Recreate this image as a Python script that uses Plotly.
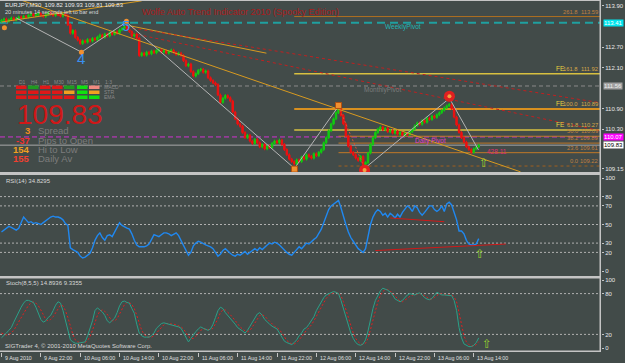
import plotly.graph_objects as go

# ---------------- layout constants (pixels) ----------------
W, H = 625, 363
M_R, M_B = 24, 11
PW, PH = W - M_R, H - M_B        # plot area 601 x 352
BAR_PX = 2.46
FONT = "Liberation Sans, Arial, sans-serif"
BG = "#424b49"

def PX(x):
    return x / PW

def PY(y):
    return 1 - y / PH

# ---------------- data ----------------
closes = [113.48, 113.52, 113.45, 113.50, 113.55, 113.49, 113.53, 113.58, 113.55,
          113.60, 113.57, 113.63, 113.66, 113.61, 113.64, 113.68, 113.62, 113.59, 113.65, 113.70, 113.66, 113.62, 113.67, 113.64, 113.60, 113.66, 113.62,
          113.35, 113.10, 113.18, 112.98, 112.90, 112.80,
          112.88, 112.84, 112.92, 112.87, 112.95, 112.91, 112.99, 113.05, 112.98, 113.08, 113.02, 113.12, 113.07, 113.15, 113.10, 113.20, 113.24,
          113.30, 113.22,
          113.15, 113.02, 113.08, 112.96,
          112.45,
          112.52, 112.46, 112.55, 112.50, 112.58, 112.53, 112.60, 112.62, 112.55, 112.59, 112.52, 112.57, 112.61, 112.54, 112.48, 112.52, 112.45,
          112.30, 112.15, 112.20, 111.98, 111.85, 111.92, 112.02, 112.05,
          111.96, 112.00,
          111.80, 111.72, 111.65, 111.60,
          111.30, 111.08,
          111.20, 111.28, 111.22, 111.12,
          110.80, 110.60, 110.45, 110.38,
          110.20, 110.05, 110.12, 109.95, 109.88, 110.00,
          109.90, 109.78, 109.85, 109.72, 109.80, 109.76, 109.88,
          109.95, 109.90, 109.98, 109.85,
          109.70, 109.55, 109.42, 109.35, 109.28,
          109.40, 109.35, 109.48, 109.42, 109.55, 109.50, 109.45, 109.58, 109.52, 109.62, 109.70,
          109.90, 110.05, 110.25, 110.45, 110.60, 110.78, 110.92,
          110.70, 110.45, 110.10, 109.80, 109.62, 109.55,
          109.45, 109.38, 109.50, 109.26, 109.32,
          109.60, 109.85, 110.05, 110.20, 110.30, 110.36,
          110.28, 110.32, 110.22, 110.26, 110.18, 110.24, 110.15, 110.20, 110.12, 110.18, 110.14, 110.22, 110.30,
          110.40, 110.48, 110.44, 110.55, 110.50, 110.62, 110.58, 110.68, 110.64, 110.72, 110.78, 110.85,
          110.92, 110.98, 111.02, 110.90,
          110.65, 110.42, 110.20, 110.05, 109.92, 109.78, 109.70, 109.62,
          109.72, 109.78, 109.83]
first_open = 113.45
wick = 0.04

rsi = [42, 44, 46, 48, 47, 45, 44, 46, 52, 58, 55, 52, 53, 51, 52, 51, 50, 52, 54, 57, 58, 59,
       58, 58, 57, 55, 51, 49, 25, 23, 21, 20, 16, 14, 15, 17, 19, 25, 33, 38, 41, 36, 33, 38, 39, 37,
       42, 48, 52, 49, 47, 46, 45, 40, 33, 28, 26, 26, 26, 27, 29, 34, 39, 38, 37, 39, 41, 41, 40, 38, 40,
       41, 38, 33, 28, 22, 17, 20, 27, 30, 32, 31, 29, 28, 27, 26,
       24, 20, 16, 18, 22, 24, 21, 19, 17, 16, 18, 17, 19, 21, 18, 20, 22, 24, 22, 25, 23, 26,
       28, 30, 29, 31, 30, 28, 25, 22, 20, 18, 17, 20, 23, 26, 24, 27, 30, 29, 32, 34,
       36, 40, 45, 52, 60, 66, 70, 72, 74, 76, 68, 58, 50, 42, 36, 32, 28, 24, 22, 20,
       24, 38, 50, 58, 63, 66, 64, 60, 62, 58, 62, 60, 57, 61, 58, 63, 66, 70, 68, 64,
       70, 68, 63, 60, 63, 67, 70, 70, 66, 64, 66, 70, 64, 72, 74, 71, 62, 55, 43, 43,
       40, 33, 29, 28, 28, 29, 34.83]

stoch_main = [15, 18, 22, 26, 30, 38, 46, 53, 60, 66, 70, 70, 68, 67, 60, 50, 42, 38, 40, 45, 48, 55,
              63, 68, 66, 55, 40, 25, 12, 9, 7, 7, 8, 9, 9, 18, 29, 40, 55, 59, 56, 53, 48, 40, 37, 40,
              44, 52, 62, 68, 69, 67, 66, 58, 51, 35, 22, 18, 16, 16, 16, 18, 22, 29, 33, 36, 37,
              36, 35, 35, 34, 33, 31, 29, 22, 15, 9, 14, 20, 24, 28, 31, 29, 27, 26, 28,
              35, 45, 55, 60, 58, 52, 48, 44, 40, 35, 30, 28, 25, 22, 26, 32, 38, 45, 50, 52, 48, 42,
              38, 35, 32, 30, 28, 22, 15, 10, 8, 6, 5, 8, 12, 18, 22, 28, 30, 35, 40, 46,
              55, 62, 68, 74, 78, 80, 82, 83, 82, 80, 70, 58, 45, 32, 22, 14, 8, 5, 4, 6,
              12, 25, 42, 58, 70, 78, 84, 88, 87, 85, 82, 78, 72, 70, 68, 70, 74, 78, 80, 79,
              78, 80, 81, 78, 74, 72, 71, 73, 78, 82, 80, 78, 78, 78, 78, 77, 70, 55, 30, 15,
              6, 4, 2, 2, 4, 8, 14.89]

stoch_signal = [22, 20, 19, 20, 22, 26, 32, 38, 45, 52, 58, 63, 66, 68, 66, 62, 56, 48, 42, 40, 42, 46,
                52, 58, 63, 62, 55, 45, 32, 20, 12, 9, 8, 8, 8, 11, 17, 26, 38, 48, 54, 56, 54, 49, 44, 40,
                40, 43, 50, 58, 64, 67, 67, 64, 58, 48, 36, 26, 20, 17, 16, 16, 18, 22, 27, 31, 34,
                36, 36, 35, 35, 34, 33, 31, 28, 23, 17, 14, 14, 17, 22, 26, 28, 28, 27, 27,
                29, 35, 43, 52, 56, 56, 53, 49, 45, 40, 35, 31, 28, 25, 24, 26, 31, 37, 43, 48, 49, 47,
                43, 39, 35, 32, 30, 27, 22, 16, 11, 8, 6, 6, 8, 12, 17, 22, 26, 30, 34, 40,
                47, 54, 61, 67, 73, 77, 80, 81, 82, 81, 77, 68, 56, 44, 32, 22, 14, 9, 6, 5,
                7, 14, 27, 42, 57, 68, 77, 83, 86, 86, 84, 80, 76, 72, 69, 68, 70, 73, 76, 78,
                79, 79, 80, 79, 77, 74, 72, 72, 74, 77, 80, 80, 79, 78, 78, 78, 75, 68, 52, 33,
                18, 9, 5, 3, 3, 5, 9.34]

time_tick_bars = [0, 16, 32, 48, 64, 80, 96, 112, 128, 144, 160, 176, 192]
time_tick_labels = ["9 Aug 2010", "9 Aug 22:00", "10 Aug 06:00", "10 Aug 14:00", "10 Aug 22:00",
                    "11 Aug 06:00", "11 Aug 14:00", "11 Aug 22:00", "12 Aug 06:00", "12 Aug 14:00",
                    "12 Aug 22:00", "13 Aug 06:00", "13 Aug 14:00"]

# visible price-scale labels (the others are hidden under the coloured price boxes)
price_ticks = [113.90, 112.70, 112.10, 110.90, 110.30, 109.15]
rsi_ticks = [100, 80, 70, 50, 30, 20, 0]
stoch_ticks = [100, 80, 20, 0]
rsi_levels = [80, 70, 50, 30, 20]
stoch_levels = [80, 20]

# Fibonacci / expansion levels
level_prices = [113.59, 111.92, 110.89, 110.27, 110.09, 109.89, 109.61, 109.22]
level_names = ["261.8", "161.8", "100.0", "61.8", "50.0", "38.2", "23.6", "0.0"]
level_is_fe = [False, True, True, True, False, False, False, False]
level_start_bar = [119, 119, 119, 119, 137, 137, 137, 137]

# pivots
monthly_pivot = 111.56
weekly_pivot = 113.41
daily_pivot = 110.07
last_price = 109.83

# wolfe wave zigzag points (bar, price)
zig_bars = [6, 32.5, 50.8, 119.1, 137, 147.6, 182.1, 193.9]
zig_prices = [113.55, 112.55, 113.43, 109.15, 110.97, 109.15, 111.20, 109.69]

# trend lines (bar0, price0, bar1, price1)
trend_orange = [(8, 114.07, 211, 109.05), (50.8, 113.34, 107.7, 112.52), (0, 113.43, 57, 114.05)]
trend_red = [(50.8, 113.28, 244.3, 111.06), (53, 113.10, 244.3, 110.24)]
rsi_red_lines = [(158, 57, 180, 53), (152, 22, 205, 29)]

# info panel
tf_labels = ["D1", "H4", "H1", "M30", "M15", "M5", "M1", "1:3"]
row_labels = ["MACD", "STR", "EMA"]
cell_colors = [
    ["#e01818", "#1f9a1f", "#e01818", "#e01818", "#1f9a1f", "#10e010", "#f08a80"],
    ["#e01818", "#e01818", "#e01818", "#e01818", "#f0a020", "#10e010", "#f0a020"],
    ["#e01818", "#e01818", "#e01818", "#e01818", "#e01818", "#10e010", "#10e010"],
]
stat_values = ["3", "-37", "154", "155"]
stat_colors = ["#f08c20", "#f03030", "#f0a020", "#f04030"]
stat_names = ["Spread", "Pips to Open", "Hi to Low", "Daily Av"]

# ---------------- derived OHLC ----------------
n = len(closes)
idx = list(range(n))
opens = [first_open] + closes[:-1]
highs = [max(o, c) + wick for o, c in zip(opens, closes)]
lows = [min(o, c) - wick for o, c in zip(opens, closes)]

x_range = [-0.6, PW / BAR_PX - 0.6]
price_range = [112.70 - 125 / 34.2, 112.70 + 47 / 34.2]
rsi_range = [(271 - 276) / 0.93, (271 - 175) / 0.93]
stoch_range = [(348 - 352) / 0.68, (348 - 278) / 0.68]

fig = go.Figure()

shapes = []
def hline(yval, yref, color, width=1, dash="solid", x0=None):
    if x0 is None:
        shapes.append(dict(type="line", xref="paper", x0=0, x1=1, yref=yref, y0=yval, y1=yval,
                           line=dict(color=color, width=width, dash=dash), layer="below"))
    else:
        shapes.append(dict(type="line", xref="x", x0=x0, x1=x_range[1], yref=yref, y0=yval, y1=yval,
                           line=dict(color=color, width=width, dash=dash), layer="below"))

level_line_colors = ["#b07020", "#d8c040", "#d89020", "#d8c040", "#c07828", "#c07828", "#c07828", "#a06020"]
level_widths = [1, 1.5, 2, 1.5, 1, 1, 1, 1]
level_dash = ["solid"] * 7 + ["dot"]
for p, c, w, d, sb in zip(level_prices, level_line_colors, level_widths, level_dash, level_start_bar):
    hline(p, "y", c, w, d, x0=sb)
hline(monthly_pivot, "y", "#8a8a8a", 1, "4px,3px")
hline(weekly_pivot, "y", "#1fa0a0", 2, "8px,5px")
hline(daily_pivot, "y", "#d030d0", 1, "5px,3px")
hline(last_price, "y", "#a8a8a8", 1)
for lv in rsi_levels:
    hline(lv, "y2", "#b0b0b0", 1, "2px,2px")
for lv in stoch_levels:
    hline(lv, "y3", "#b0b0b0", 1, "2px,2px")

for (b0, p0, b1, p1) in trend_orange:
    fig.add_trace(go.Scatter(x=[b0, b1], y=[p0, p1], mode="lines", line=dict(color="#d89a20", width=1),
                             xaxis="x", yaxis="y", hoverinfo="skip"))
for (b0, p0, b1, p1) in trend_red:
    fig.add_trace(go.Scatter(x=[b0, b1], y=[p0, p1], mode="lines", line=dict(color="#c02020", width=1, dash="3px,3px"),
                             xaxis="x", yaxis="y", hoverinfo="skip"))

seg_styles = ["grey", "grey", "grey", "grey", "reddot", "grey", "grey"]
for i in range(len(zig_bars) - 1):
    st = seg_styles[i]
    line = dict(color="#b4b4b4", width=1) if st == "grey" else dict(color="#e05030", width=1, dash="2px,2px")
    fig.add_trace(go.Scatter(x=zig_bars[i:i + 2], y=zig_prices[i:i + 2], mode="lines", line=line,
                             xaxis="x", yaxis="y", hoverinfo="skip"))

fig.add_trace(go.Candlestick(x=idx, open=opens, high=highs, low=lows, close=closes,
                             increasing=dict(line=dict(color="#10cc10", width=1), fillcolor="#10cc10"),
                             decreasing=dict(line=dict(color="#f01010", width=1), fillcolor="#f01010"),
                             xaxis="x", yaxis="y", hoverinfo="skip", whiskerwidth=0))

fig.add_trace(go.Scatter(x=[1.2, 32.5, 50.8], y=[113.26, 112.55, 113.45], mode="markers",
                         marker=dict(color="#f09030", size=5), xaxis="x", yaxis="y", hoverinfo="skip"))
fig.add_trace(go.Scatter(x=[119.1, 137], y=[109.13, 110.99], mode="markers",
                         marker=dict(color="#f09030", size=6, symbol="square", line=dict(color="#b05010", width=1)),
                         xaxis="x", yaxis="y", hoverinfo="skip"))
fig.add_trace(go.Scatter(x=[147.6, 182.1], y=[109.10, 111.26], mode="markers",
                         marker=dict(color="#e02020", size=11), xaxis="x", yaxis="y", hoverinfo="skip"))
fig.add_trace(go.Scatter(x=[147.6, 182.1], y=[109.10, 111.26], mode="markers",
                         marker=dict(color="#f0a040", size=4), xaxis="x", yaxis="y", hoverinfo="skip"))

fig.add_trace(go.Scatter(x=list(range(len(rsi))), y=rsi, mode="lines", line=dict(color="#2088f0", width=1.4),
                         xaxis="x2", yaxis="y2", hoverinfo="skip"))
for (b0, v0, b1, v1) in rsi_red_lines:
    fig.add_trace(go.Scatter(x=[b0, b1], y=[v0, v1], mode="lines", line=dict(color="#d01818", width=1),
                             xaxis="x2", yaxis="y2", hoverinfo="skip"))

fig.add_trace(go.Scatter(x=list(range(len(stoch_signal))), y=stoch_signal, mode="lines",
                         line=dict(color="#e02020", width=1, dash="2px,2px"), xaxis="x3", yaxis="y3", hoverinfo="skip"))
fig.add_trace(go.Scatter(x=list(range(len(stoch_main))), y=stoch_main, mode="lines",
                         line=dict(color="#2aa088", width=1), xaxis="x3", yaxis="y3", hoverinfo="skip"))

# ---------------- annotations ----------------
ann = []
def text(x, y, s, color, size=6, xanchor="left", yanchor="middle", family=FONT, bg=None, xref="paper", yref="paper"):
    d = dict(x=PX(x) if xref == "paper" else x, y=PY(y) if yref == "paper" else y, xref=xref, yref=yref,
             text=s, showarrow=False, xanchor=xanchor, yanchor=yanchor,
             font=dict(family=family, size=size, color=color))
    if bg:
        d.update(bgcolor=bg, borderpad=0)
    ann.append(d)

text(3, 5, "EURJPY,M30  109.82 109.93 109.81 109.83", "#e8e8e8")
text(3, 12, "20 minutes 14 seconds left to bar end", "#d8d8d8", size=5.6)
text(140, 12, "Wolfe Auto Trend Indicator 2010 (Spooky Edition)", "#a81c1c", size=9)
text(383, 27, "WeeklyPivot", "#20b8b8", size=6.5)
text(362, 90, "MonthlyPivot", "#7c7c7c", size=6.5)
text(413, 141, "Daily Pivot", "#e040c8", size=6.5)
text(485, 151, "428.11", "#e03070", size=6.5)

for p, name, fe in zip(level_prices, level_names, level_is_fe):
    col = "#d8a848" if fe else "#c08040"
    ann.append(dict(x=PX(600), y=p, xref="paper", yref="y", text="%.2f" % p, showarrow=False,
                    xanchor="right", yanchor="bottom", font=dict(family=FONT, size=5.8, color=col)))
    ann.append(dict(x=PX(580), y=p, xref="paper", yref="y", text=name, showarrow=False,
                    xanchor="right", yanchor="bottom", font=dict(family=FONT, size=5.8, color=col)))
    if fe:
        ann.append(dict(x=PX(554), y=p, xref="paper", yref="y", text="FE", showarrow=False,
                        xanchor="left", yanchor="bottom", font=dict(family=FONT, size=6.5, color="#e8d040")))

text(32.5, 112.35, "4", "#3a90f0", size=15, xref="x", yref="y", xanchor="center")
text(50.8, 113.32, "5", "#3a90f0", size=15, xref="x", yref="y", xanchor="center")

text(196, 109.30, "⇧", "#9acd32", size=12, xref="x", yref="y", xanchor="center", family="DejaVu Sans")
text(194.5, 18, "⇧", "#9acd32", size=12, xref="x", yref="y2", xanchor="center", family="DejaVu Sans")
text(197.5, 6, "⇧", "#9acd32", size=12, xref="x", yref="y3", xanchor="center", family="DejaVu Sans")

for price, lab, bg, fg in [(weekly_pivot, "113.41", "#00e5ee", "#ffffff"),
                           (monthly_pivot, "111.56", "#a0a0a0", "#eeeeee"),
                           (daily_pivot, "110.07", "#ff00ff", "#ffffff"),
                           (last_price, "109.83", "#ffffff", "#000000")]:
    ann.append(dict(x=PX(603), y=price, xref="paper", yref="y", text=lab, showarrow=False,
                    xanchor="left", yanchor="middle", bgcolor=bg, borderpad=0,
                    font=dict(family=FONT, size=6, color=fg)))

tf_x = [17, 29, 41, 52, 65, 79, 91, 103]
for lab, x in zip(tf_labels, tf_x):
    text(x, 81.5, lab, "#8a8a8a", size=5)
cell_x0 = [16, 28, 40, 52, 64, 77, 89]
row_y0 = [85.5, 90.5, 95.5]
for r, (y0, row) in enumerate(zip(row_y0, cell_colors)):
    for x0, c in zip(cell_x0, row):
        shapes.append(dict(type="rect", xref="paper", yref="paper", x0=PX(x0), x1=PX(x0 + 10.5),
                           y0=PY(y0 + 3.5), y1=PY(y0), fillcolor=c, line=dict(width=0), layer="above"))
    text(102, y0 + 1.8, row_labels[r], "#8a8a8a", size=5)

text(15, 114, "109.83", "#d01818", size=28)
stat_y = [131, 140, 149, 158]
for v, c, name, y in zip(stat_values, stat_colors, stat_names, stat_y):
    ann.append(dict(x=PX(31.5), y=PY(y), xref="paper", yref="paper", text="<b>" + v + "</b>", showarrow=False,
                    xanchor="right", yanchor="middle", font=dict(family=FONT, size=9.5, color=c)))
    text(36, y, name, "#7c7c7c", size=9.5)

text(4, 181, "RSI(14) 34.8295", "#d8d8d8")
text(4, 283, "Stoch(8,5,5) 14.8936 9.3355", "#d8d8d8")
text(3, 346, "SIGTrader 4, © 2001-2010 MetaQuotes Software Corp.", "#d8d8d8")

for b, lab in zip(time_tick_bars, time_tick_labels):
    ann.append(dict(x=b + 1.5 / BAR_PX, y=PY(357.5), xref="x3", yref="paper", text=lab, showarrow=False,
                    xanchor="left", yanchor="middle", font=dict(family=FONT, size=5.3, color="#e0e0e0")))

SEP = "#c4c4c4"
for (y0, y1) in [(0, 1), (172, 175), (276, 278.5), (350.5, 352)]:
    shapes.append(dict(type="rect", xref="paper", yref="paper", x0=0, x1=1, y0=PY(y1), y1=PY(y0),
                       fillcolor=SEP, line=dict(width=0), layer="above"))
shapes.append(dict(type="rect", xref="paper", yref="paper", x0=PX(599.5), x1=1, y0=0, y1=1,
                   fillcolor=SEP, line=dict(width=0), layer="above"))

axis_common = dict(showgrid=False, zeroline=False, showline=False)
tickfont = dict(family=FONT, size=6, color="#e8e8e8")
fig.update_layout(
    width=W, height=H, margin=dict(l=0, r=M_R, t=0, b=M_B, pad=0),
    paper_bgcolor=BG, plot_bgcolor=BG, showlegend=False, boxgap=0.15,
    xaxis=dict(domain=[0, 1], range=x_range, anchor="y", showticklabels=False, ticks="",
               rangeslider=dict(visible=False), **axis_common),
    xaxis2=dict(domain=[0, 1], range=x_range, anchor="y2", showticklabels=False, ticks="", **axis_common),
    xaxis3=dict(domain=[0, 1], range=x_range, anchor="y3", showticklabels=False, ticks="outside",
                tickvals=time_tick_bars, ticklen=4, tickcolor="#c4c4c4", tickwidth=1, **axis_common),
    yaxis=dict(domain=[1 - 172 / PH, 1], range=price_range, side="right", anchor="x",
               tickvals=price_ticks, ticktext=["%.2f" % v for v in price_ticks],
               ticks="outside", ticklen=2, tickcolor="#c4c4c4", tickfont=tickfont, **axis_common),
    yaxis2=dict(domain=[1 - 276 / PH, 1 - 175 / PH], range=rsi_range, side="right", anchor="x2",
                tickvals=rsi_ticks, ticks="outside", ticklen=2, tickcolor="#c4c4c4", tickfont=tickfont, **axis_common),
    yaxis3=dict(domain=[0, 1 - 278 / PH], range=stoch_range, side="right", anchor="x3",
                tickvals=stoch_ticks, ticks="outside", ticklen=2, tickcolor="#c4c4c4", tickfont=tickfont, **axis_common),
    shapes=shapes, annotations=ann,
)

fig.write_html("out.html")
